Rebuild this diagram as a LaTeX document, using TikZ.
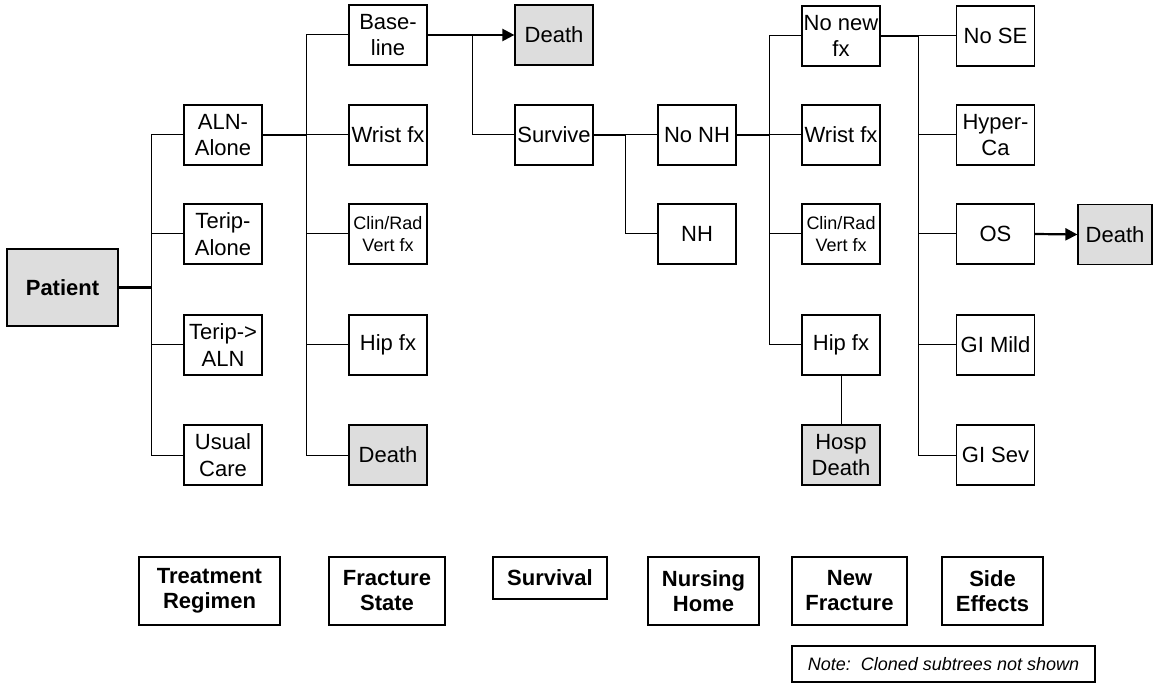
\documentclass[tikz,border=0pt]{standalone}
\usepackage{fontspec}
\setmainfont{Liberation Sans}
\usetikzlibrary{arrows.meta}
\definecolor{deadgray}{RGB}{221,221,221}

\begin{document}
\begin{tikzpicture}[x=0.5pt,y=-0.5pt]
\tikzstyle{every node}+=[inner sep=0pt]
\tikzstyle{box}=[draw,line width=0.6pt,minimum width=39pt,minimum height=30pt,align=center,font=\fontsize{11}{13.3}\selectfont]
\tikzstyle{dead}=[box,fill=deadgray]
\tikzstyle{small}=[font=\fontsize{9}{10.8}\selectfont]
\tikzstyle{key}=[draw,line width=0.6pt,minimum height=34pt,align=center,font=\fontsize{11}{12.5}\selectfont\bfseries]
\tikzstyle{link}=[line width=0.5pt]
\tikzstyle{trunk}=[line width=1.1pt]
\tikzstyle{kill}=[line width=1.1pt,-{Triangle[length=6pt,width=6pt]}]
\useasboundingbox (0,0) rectangle (1154,683);
\node[dead,minimum width=55.5pt,minimum height=38.5pt,font=\fontsize{11}{13.3}\selectfont\bfseries] (patient) at (62.5,287.5) {Patient};
\node[box] (aln) at (223,135) {ALN-\\Alone};
\node[box] (teripa) at (223,234) {Terip-\\Alone};
\node[box] (teripaln) at (223,345) {Terip->\\ALN};
\node[box] (usual) at (223,455) {Usual\\Care};
\node[box] (baseline) at (388,35) {Base-\\line};
\node[box] (wrista) at (388,135) {Wrist fx};
\node[box,small] (clina) at (388,234) {Clin/Rad\\Vert fx};
\node[box] (hipa) at (388,345) {Hip fx};
\node[dead] (deatha) at (388,455) {Death};
\node[dead] (deathb) at (554,35) {Death};
\node[box] (survive) at (554,135) {Survive};
\node[box] (nonh) at (697,135) {No NH};
\node[box] (nh) at (697,234) {NH};
\node[box] (nonew) at (841,36) {No new\\fx};
\node[box] (wristb) at (841,135) {Wrist fx};
\node[box,small] (clinb) at (841,234) {Clin/Rad\\Vert fx};
\node[box] (hipb) at (841,345) {Hip fx};
\node[dead] (hosp) at (841,455) {Hosp\\Death};
\node[box] (nose) at (995.5,36) {No SE};
\node[box] (hyper) at (995.5,135) {Hyper-\\Ca};
\node[box] (os) at (995.5,234) {OS};
\node[box] (gimild) at (995.5,345) {GI Mild};
\node[box] (gisev) at (995.5,455) {GI Sev};
\node[dead,minimum width=37pt] (deathc) at (1115,234.5) {Death};
\node[key,minimum width=70.5pt] (ktreat) at (209.5,591) {Treatment\\Regimen};
\node[key,minimum width=58pt] (kfract) at (387,591) {Fracture\\State};
\node[key,minimum width=57pt,minimum height=21pt] (ksurv) at (550,578) {Survival};
\node[key,minimum width=55.5pt] (knurse) at (703.5,591) {Nursing\\Home};
\node[key,minimum width=57.5pt] (knewfx) at (849.5,591) {New\\Fracture};
\node[key,minimum width=50.5pt] (kside) at (992.5,591) {Side\\Effects};
\node[draw,line width=0.6pt,minimum width=151.5pt,minimum height=18pt,font=\fontsize{9}{10.8}\selectfont\itshape] (note) at (943.5,664) {Note:\ \ Cloned subtrees not shown};
\draw[trunk] (patient.east) -- ++(33,0);
\foreach \n in {aln,teripa,teripaln,usual} \draw[link] (patient.east) ++(33,0) |- (\n.west);
\draw[trunk] (aln.east) -- ++(44,0);
\foreach \n in {baseline,wrista,clina,hipa,deatha} \draw[link] (aln.east) ++(44,0) |- (\n.west);
\draw[kill] (baseline.east) -- (deathb.west);
\draw[link] (baseline.east) ++(45,0) |- (survive.west);
\draw[trunk] (survive.east) -- ++(32,0);
\foreach \n in {nonh,nh} \draw[link] (survive.east) ++(32,0) |- (\n.west);
\draw[trunk] (nonh.east) -- ++(33,0);
\foreach \n in {nonew,wristb,clinb,hipb} \draw[link] (nonh.east) ++(33,0) |- (\n.west);
\draw[link] (hipb) -- (hosp);
\draw[trunk] (nonew.east) -- ++(38,0);
\foreach \n in {nose,hyper,os,gimild,gisev} \draw[link] (nonew.east) ++(38,0) |- (\n.west);
\draw[kill] (os.east) -- (deathc.west);
\end{tikzpicture}
\end{document}
